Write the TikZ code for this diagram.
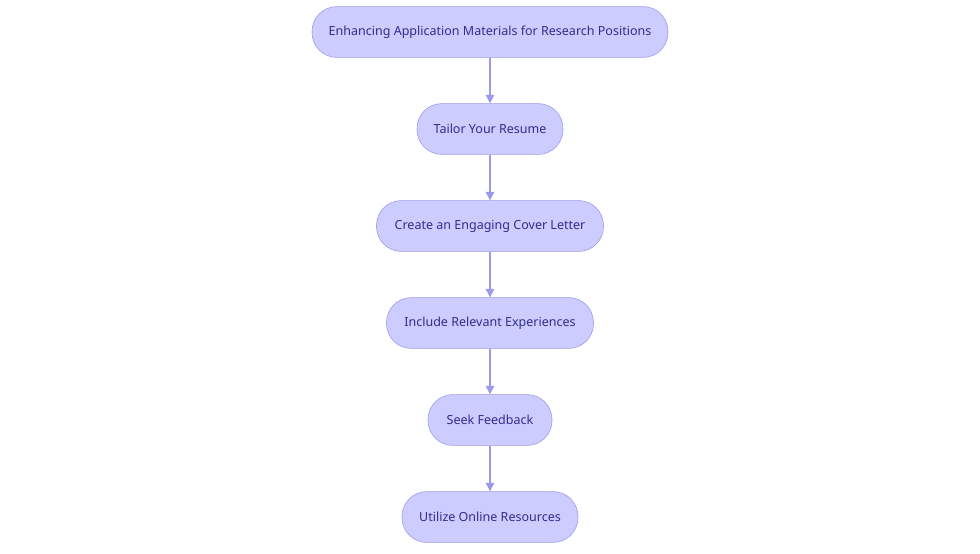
\documentclass[tikz,border=0pt]{standalone}
\usepackage{fontspec}
\setmainfont{Noto Sans}
\usetikzlibrary{positioning,arrows.meta}
\definecolor{boxfill}{HTML}{CCCCFF}
\definecolor{boxline}{HTML}{9A9AEC}
\definecolor{boxtext}{HTML}{2E2E8C}
\begin{document}
\begin{tikzpicture}[x=0.025cm,y=-0.025cm,
    stage/.style={draw=boxline,fill=boxfill,text=boxtext,rounded corners=0.62cm,
        minimum height=1.27cm,font=\fontsize{8.9}{11}\selectfont,inner sep=0pt},
    link/.style={draw=boxline,line width=0.8pt,-{Triangle[length=6pt,width=6pt]}}]
    % Frame
    \useasboundingbox (0,0) rectangle (980,553);

    % Stages
    \node[stage,minimum width=356*0.025cm] (aims) at (490,32) {Enhancing Application Materials for Research Positions};
    \node[stage,minimum width=146*0.025cm] (resume) at (490,129) {Tailor Your Resume};
    \node[stage,minimum width=227*0.025cm] (cover) at (490,226) {Create an Engaging Cover Letter};
    \node[stage,minimum width=207*0.025cm] (exper) at (490,323) {Include Relevant Experiences};
    \node[stage,minimum width=124*0.025cm] (feedb) at (490,420) {Seek Feedback};
    \node[stage,minimum width=176*0.025cm] (online) at (490,517) {Utilize Online Resources};

    % Links
    \draw[link] (aims) -- (resume);
    \draw[link] (resume) -- (cover);
    \draw[link] (cover) -- (exper);
    \draw[link] (exper) -- (feedb);
    \draw[link] (feedb) -- (online);
\end{tikzpicture}
\end{document}
